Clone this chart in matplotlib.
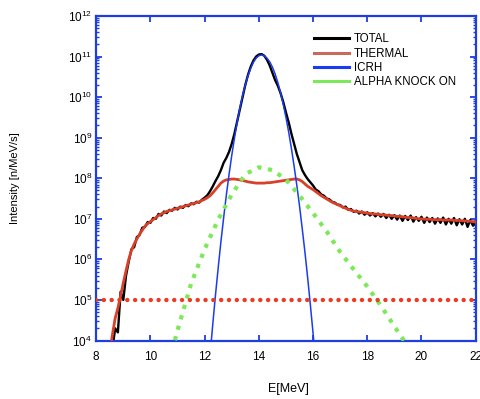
import numpy as np
import matplotlib
matplotlib.use("Agg")
import matplotlib.pyplot as plt
from matplotlib.ticker import LogLocator, LogFormatterMathtext, NullFormatter
from matplotlib.lines import Line2D

plt.rcParams['font.family'] = ['Liberation Sans', 'DejaVu Sans']
plt.rcParams['mathtext.default'] = 'regular'

# ---------------- data (log10 of intensity) ----------------
E_start, E_step = 8.5, 0.1
total_log = [3.5, 3.8, 4.3, 4.2, 5.2, 5.0, 5.6, 5.95, 6.25, 6.30,
             6.55, 6.60, 6.78, 6.80, 6.92, 6.90, 7.02, 7.00, 7.12, 7.08,
             7.18, 7.14, 7.22, 7.20, 7.27, 7.23, 7.30, 7.27, 7.34, 7.31,
             7.38, 7.36, 7.42, 7.40, 7.47, 7.52, 7.58, 7.68, 7.80, 7.93,
             8.05, 8.20, 8.38, 8.50, 8.65, 8.85, 9.10, 9.40, 9.70, 10.00,
             10.30, 10.55, 10.75, 10.90, 11.00, 11.05, 11.06, 11.02, 10.92, 10.78,
             10.60, 10.42, 10.28, 10.10, 9.88, 9.62, 9.38, 9.10, 8.85, 8.60,
             8.40, 8.20, 8.08, 7.98, 7.90, 7.82, 7.72, 7.68, 7.60, 7.57,
             7.50, 7.48, 7.42, 7.40, 7.35, 7.34, 7.28, 7.30, 7.22, 7.24,
             7.17, 7.20, 7.13, 7.18, 7.10, 7.16, 7.08, 7.14, 7.06, 7.13,
             7.05, 7.12, 7.02, 7.10, 7.00, 7.09, 6.98, 7.08, 6.95, 7.07,
             6.97, 7.08, 6.93, 7.04, 6.95, 7.05, 6.90, 7.03, 6.92, 7.02,
             6.88, 7.01, 6.90, 7.03, 6.86, 7.00, 6.88, 7.02, 6.84, 6.99,
             6.86, 7.00, 6.80, 6.97, 6.83, 6.95]

thermal_log = [3.7, 4.15, 4.55, 4.80, 5.10, 5.42, 5.72, 6.00, 6.22, 6.38,
               6.50, 6.62, 6.72, 6.82, 6.88, 6.93, 6.98, 7.03, 7.08, 7.12,
               7.15, 7.18, 7.20, 7.22, 7.24, 7.26, 7.28, 7.30, 7.32, 7.34,
               7.36, 7.38, 7.40, 7.42, 7.45, 7.48, 7.52, 7.57, 7.64, 7.72,
               7.80, 7.88, 7.93, 7.96, 7.97, 7.98, 7.98, 7.97, 7.96, 7.94,
               7.93, 7.91, 7.90, 7.89, 7.88, 7.88, 7.88, 7.88, 7.89, 7.89,
               7.90, 7.91, 7.92, 7.93, 7.94, 7.95, 7.96, 7.97, 7.98, 7.98,
               7.96, 7.92, 7.86, 7.80, 7.76, 7.72, 7.67, 7.62, 7.57, 7.53,
               7.49, 7.45, 7.41, 7.38, 7.35, 7.32, 7.29, 7.26, 7.23, 7.21,
               7.19, 7.18, 7.17, 7.16, 7.15, 7.14, 7.13, 7.12, 7.12, 7.11,
               7.10, 7.10, 7.09, 7.08, 7.08, 7.07, 7.06, 7.06, 7.05, 7.04,
               7.03, 7.03, 7.02, 7.01, 7.00, 7.00, 6.99, 6.99, 6.99, 6.98,
               6.98, 6.98, 6.98, 6.97, 6.97, 6.97, 6.97, 6.96, 6.96, 6.96,
               6.95, 6.95, 6.94, 6.94, 6.93, 6.92]

icrh_E_start = 12.2
icrh_log = [3.64, 4.40, 5.12, 5.79, 6.43, 7.02, 7.58, 8.09, 8.56, 8.99,
            9.38, 9.73, 10.04, 10.30, 10.53, 10.71, 10.86, 10.96, 11.02, 11.04,
            11.02, 10.96, 10.87, 10.74, 10.57, 10.36, 10.11, 9.82, 9.50, 9.14,
            8.74, 8.30, 7.83, 7.32, 6.76, 6.18, 5.55, 4.88, 4.18, 3.44]

alpha_E = [10.8, 11.0, 11.5, 12.0, 12.5, 13.0, 13.5, 14.0, 14.5, 15.0,
           15.5, 16.0, 16.5, 17.0, 17.5, 18.0, 18.5, 19.0, 19.5]
alpha_log = [3.75, 4.25, 5.40, 6.25, 6.98, 7.60, 8.10, 8.27, 8.20, 7.97,
             7.57, 7.14, 6.69, 6.18, 5.75, 5.33, 4.86, 4.35, 3.85]

background_level = 1e5

labels = ["TOTAL", "THERMAL", "ICRH", "ALPHA KNOCK ON"]
x_ticks = [8, 10, 12, 14, 16, 18, 20, 22]

# ---------------- plot ----------------
E_total = E_start + E_step * np.arange(len(total_log))
E_thermal = E_start + E_step * np.arange(len(thermal_log))
E_icrh = icrh_E_start + E_step * np.arange(len(icrh_log))

fig = plt.figure(figsize=(4.81, 3.99), dpi=100)
ax = fig.add_axes([0.2, 0.1466, 0.789, 0.8134])

spine_c = '#1f3ee0'
c_total = 'black'
c_thermal = '#d8402a'
c_thermal_leg = '#c86a5e'
c_icrh = '#1a3cf0'
c_alpha = '#7de858'
c_bg = '#ee3a22'

ax.plot(E_total, 10 ** np.array(total_log), color=c_total, lw=1.7, zorder=2)
ax.plot(E_thermal, 10 ** np.array(thermal_log), color=c_thermal, lw=2.0, zorder=3)
ax.plot(E_icrh, 10 ** np.array(icrh_log), color=c_icrh, lw=1.1, zorder=4)
ax.plot(alpha_E, 10 ** np.array(alpha_log), color=c_alpha, lw=3.0,
        linestyle=(0, (1, 1.6)), zorder=5)
ax.axhline(background_level, color=c_bg, lw=3.2, linestyle=(0, (0.01, 1.75)),
           dash_capstyle='round', zorder=6)

ax.set_yscale('log')
ax.set_xlim(8, 22)
ax.set_ylim(1e4, 1e12)
ax.set_xticks(x_ticks)
ax.yaxis.set_major_locator(LogLocator(base=10, numticks=20))
ax.yaxis.set_major_formatter(LogFormatterMathtext())
ax.yaxis.set_minor_locator(LogLocator(base=10, subs=np.arange(2, 10), numticks=20))
ax.yaxis.set_minor_formatter(NullFormatter())

for s in ax.spines.values():
    s.set_color(spine_c)
    s.set_linewidth(1.6)
ax.tick_params(which='both', direction='in', top=True, right=True, color=spine_c)
ax.tick_params(which='major', length=4.5, width=1.3, labelsize=8.5)
ax.tick_params(which='minor', length=2.3, width=1.0)
ax.tick_params(axis='x', which='major', pad=7.5)
ax.tick_params(axis='y', which='major', pad=3)

ax.set_xlabel('E[MeV]', fontsize=9)
ax.xaxis.set_label_coords(0.507, -0.131)
ax.set_ylabel('Intensity [n/MeV/s]', fontsize=8)
ax.yaxis.set_label_coords(-0.20, 0.5)

handles = [Line2D([], [], color=c_total, lw=2.2),
           Line2D([], [], color=c_thermal_leg, lw=2.2),
           Line2D([], [], color=c_icrh, lw=2.2),
           Line2D([], [], color=c_alpha, lw=2.2)]
ax.legend(handles, labels, loc='upper left', bbox_to_anchor=(0.575, 0.946),
          frameon=False, fontsize=8.3, handlelength=3.0, handletextpad=0.45,
          labelspacing=0.2, borderpad=0, borderaxespad=0)

fig.savefig('out.png', dpi=100)
